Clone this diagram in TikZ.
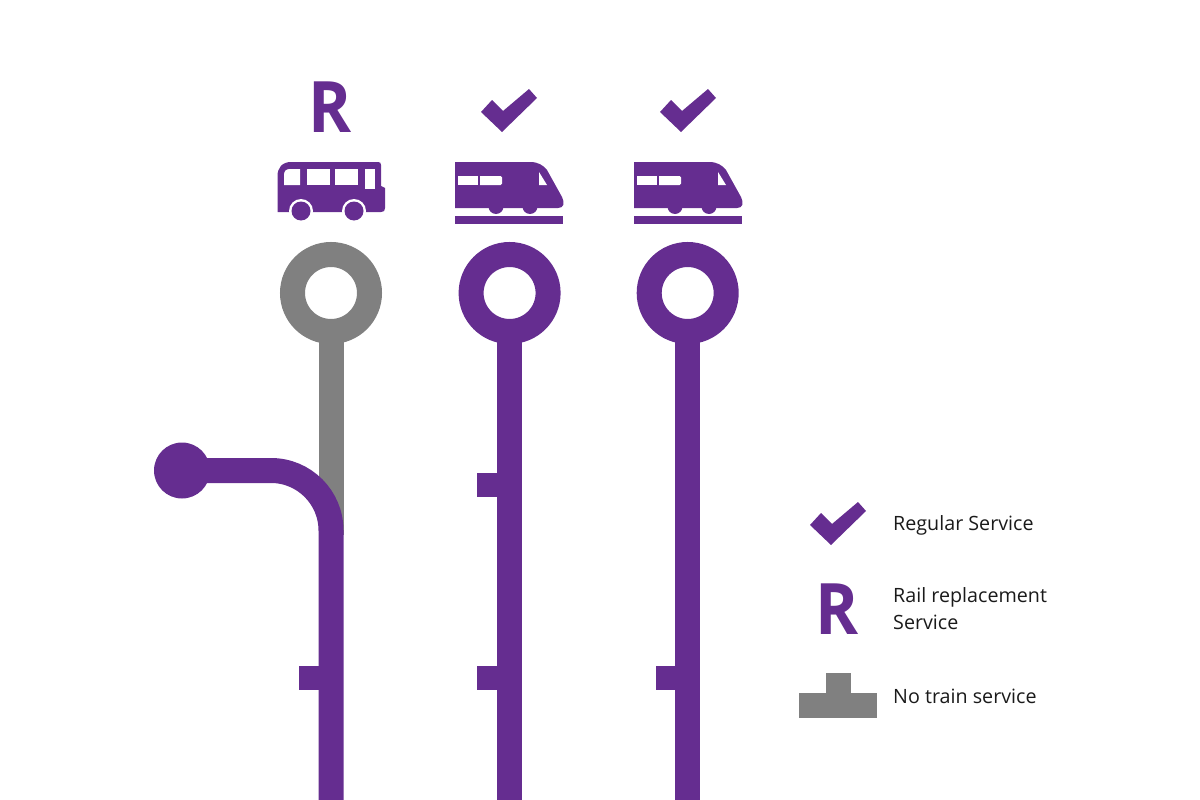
\documentclass[tikz,border=0pt]{standalone}
\usepackage{fontspec}
\setmainfont{Open Sans}
\newfontfamily\letterfont[FakeStretch=0.92]{Open Sans}
\usetikzlibrary{backgrounds}
\definecolor{linepurple}{HTML}{652D90}
\definecolor{linegray}{HTML}{808080}
\definecolor{labelink}{HTML}{1A1A1A}

\begin{document}
\begin{tikzpicture}[
  x=1pt, y=-1pt,
  route/.style={line width=25pt, draw=#1},
  route/.default=linepurple,
  station/.style={circle, draw=#1, fill=white, line width=25pt, minimum size=77pt, inner sep=0pt},
  station/.default=linepurple,
  terminus/.style={circle, fill=linepurple, minimum size=56pt, inner sep=0pt},
  stub/.style={fill=linepurple, minimum width=21pt, minimum height=24pt, inner sep=0pt},
  block/.style={fill=linegray, inner sep=0pt},
  bigletter/.style={font=\letterfont\fontsize{71}{71}\selectfont\bfseries, text=linepurple, inner sep=0pt},
  legendtext/.style={anchor=base west, align=left, inner sep=0pt, text=labelink,
    font=\fontsize{19.7}{27}\selectfont},
  check/.pic={
    \fill[linepurple] (0,0) -- (-21,-20) -- (-10,-32) -- (1,-21) -- (27,-43) -- (35,-34) -- cycle;
  },
  train/.pic={
    \fill[linepurple] (0,0) -- (75,0) .. controls (83,0) and (88,3) .. (92,8) -- (107,35)
      .. controls (110,41) and (109,46) .. (103,46) -- (0,46) -- cycle;
    \fill[linepurple] (41,44.5) circle[radius=7.5] (75,44.5) circle[radius=7.5];
    \fill[white] (3,14) rectangle (23,23);
    \fill[white] (25,14) [rounded corners=1.5pt] -- (47,14) -- (47,23) [sharp corners] -- (25,23) -- cycle;
    \fill[white] (84,10) -- (92,23) -- (84,23) -- cycle;
    \fill[linepurple] (0,54) rectangle (108,62);
  }
]
\useasboundingbox (0,0) rectangle (1200,800);

% stations
\node[station=linegray] (sta1) at (331,293) {};
\node[station] (sta2) at (509.6,293) {};
\node[station] (sta3) at (687.7,293) {};
\node[terminus] (term1) at (182,470.5) {};

\coordinate (end1) at (331,800);
\coordinate (end2) at (509.6,800);
\coordinate (end3) at (687.7,800);
\coordinate (corner1) at (331,470.5);
\coordinate (join1) at (331,535);

% lines
\begin{scope}[on background layer]
  \draw[route=linegray] (sta1.center) -- (join1);
  \draw[route, rounded corners=60pt] (term1.center) -- (corner1) -- (end1);
  \draw[route] (sta2.center) -- (end2);
  \draw[route] (sta3.center) -- (end3);
\end{scope}

% stubs
\node[stub] (stub1) at (309.5,678) {};
\node[stub] (stub2) at (487.5,485) {};
\node[stub] (stub3) at (487.5,678) {};
\node[stub] (stub4) at (666.5,678) {};

% service icons
\node[bigletter] (replace1) at (330,107.5) {R};
\pic at (502,132) {check};
\pic at (681,132) {check};

% bus
\fill[linepurple] (277.5,212) -- (277.5,176) .. controls (277.5,168) and (282,162) .. (291,162)
  -- (378,162) .. controls (380,162) and (381,163) .. (381,165) -- (381,186) -- (385,188)
  -- (385,208) .. controls (385,211) and (384,212) .. (381,212) -- cycle;
\fill[white] (284,185) -- (284,175) .. controls (284,171) and (286,169) .. (290,169)
  -- (300,169) -- (300,185) -- cycle;
\fill[white] (306.5,169) rectangle (329.5,185);
\fill[white] (334.5,169) rectangle (357.5,185);
\fill[white] (364.5,169) rectangle (375,188.5);
\foreach \wheelx in {301,354} {
  \fill[white] (\wheelx,211) circle[radius=12];
  \fill[linepurple] (\wheelx,211) circle[radius=9.5];
}

\pic at (455,162) {train};
\pic at (634,162) {train};

% legend
\pic at (831,545) {check};
\node[bigletter] (replace2) at (837.5,609) {R};
\node[block, minimum width=25pt, minimum height=21pt] (tee1) at (838.5,683.5) {};
\node[block, minimum width=78pt, minimum height=25pt] (tee2) at (838,705.5) {};
\node[legendtext] (label1) at (893,530) {Regular Service};
\node[legendtext] (label2) at (893,629) {Rail replacement\\Service};
\node[legendtext] (label3) at (893,703) {No train service};
\end{tikzpicture}
\end{document}
